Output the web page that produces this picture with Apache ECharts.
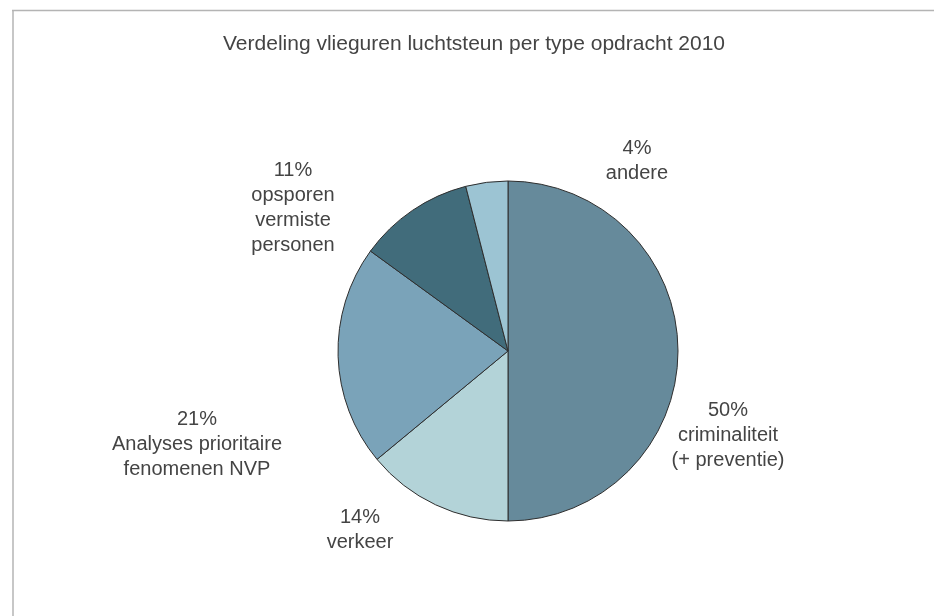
<!DOCTYPE html>
<html>
<head>
<meta charset="utf-8">
<script src="https://cdn.jsdelivr.net/npm/echarts@6/dist/echarts.min.js"></script>
<style>
html,body{margin:0;padding:0;background:#fff;}
#chart{width:934px;height:616px;}
</style>
</head>
<body>
<div id="chart"></div>
<script>
// ---- data ----
const categories = [
  'criminaliteit\n(+ preventie)',
  'verkeer',
  'Analyses prioritaire\nfenomenen NVP',
  'opsporen\nvermiste\npersonen',
  'andere'
];
const values = [50, 14, 21, 11, 4];
const titleText = 'Verdeling vlieguren luchtsteun per type opdracht 2010';

// ---- styles / layout ----
const sliceColors = ['#668a9b', '#b3d3d8', '#7aa3b9', '#416c7b', '#9cc4d3'];
const labelCenters = [[728, 435], [360, 530], [197, 444], [293, 208], [637, 161]];
const textColor = '#444444';
const fontFamily = '"Liberation Sans", Arial, sans-serif';

const chart = echarts.init(document.getElementById('chart'), null, {renderer: 'canvas'});

const data = categories.map((name, i) => ({
  name: name,
  value: values[i],
  itemStyle: {color: sliceColors[i]}
}));

chart.setOption({
  animation: false,
  backgroundColor: '#ffffff',
  title: {
    text: titleText,
    left: 218,
    top: 29,
    textStyle: {fontFamily: fontFamily, fontWeight: 'normal', fontSize: 21, color: textColor}
  },
  graphic: [
    {type: 'line', shape: {x1: 12, y1: 10.5, x2: 934, y2: 10.5}, style: {stroke: '#b4b4b4', lineWidth: 1.5}, silent: true},
    {type: 'line', shape: {x1: 13, y1: 10, x2: 13, y2: 616}, style: {stroke: '#b4b4b4', lineWidth: 1.5}, silent: true}
  ],
  series: [{
    type: 'pie',
    center: [508, 351],
    radius: 170,
    startAngle: 90,
    clockwise: true,
    avoidLabelOverlap: false,
    emphasis: {disabled: true, scale: false},
    itemStyle: {borderColor: '#2e2e2e', borderWidth: 1},
    label: {
      show: true,
      position: 'inside',
      formatter: '{c}%\n{b}',
      color: textColor,
      fontFamily: fontFamily,
      fontSize: 20,
      lineHeight: 25,
      align: 'center',
      verticalAlign: 'middle'
    },
    labelLine: {show: false},
    labelLayout: function (params) {
      const p = labelCenters[params.dataIndex];
      return {x: p[0], y: p[1], hideOverlap: false};
    },
    data: data
  }]
});
</script>
</body>
</html>
